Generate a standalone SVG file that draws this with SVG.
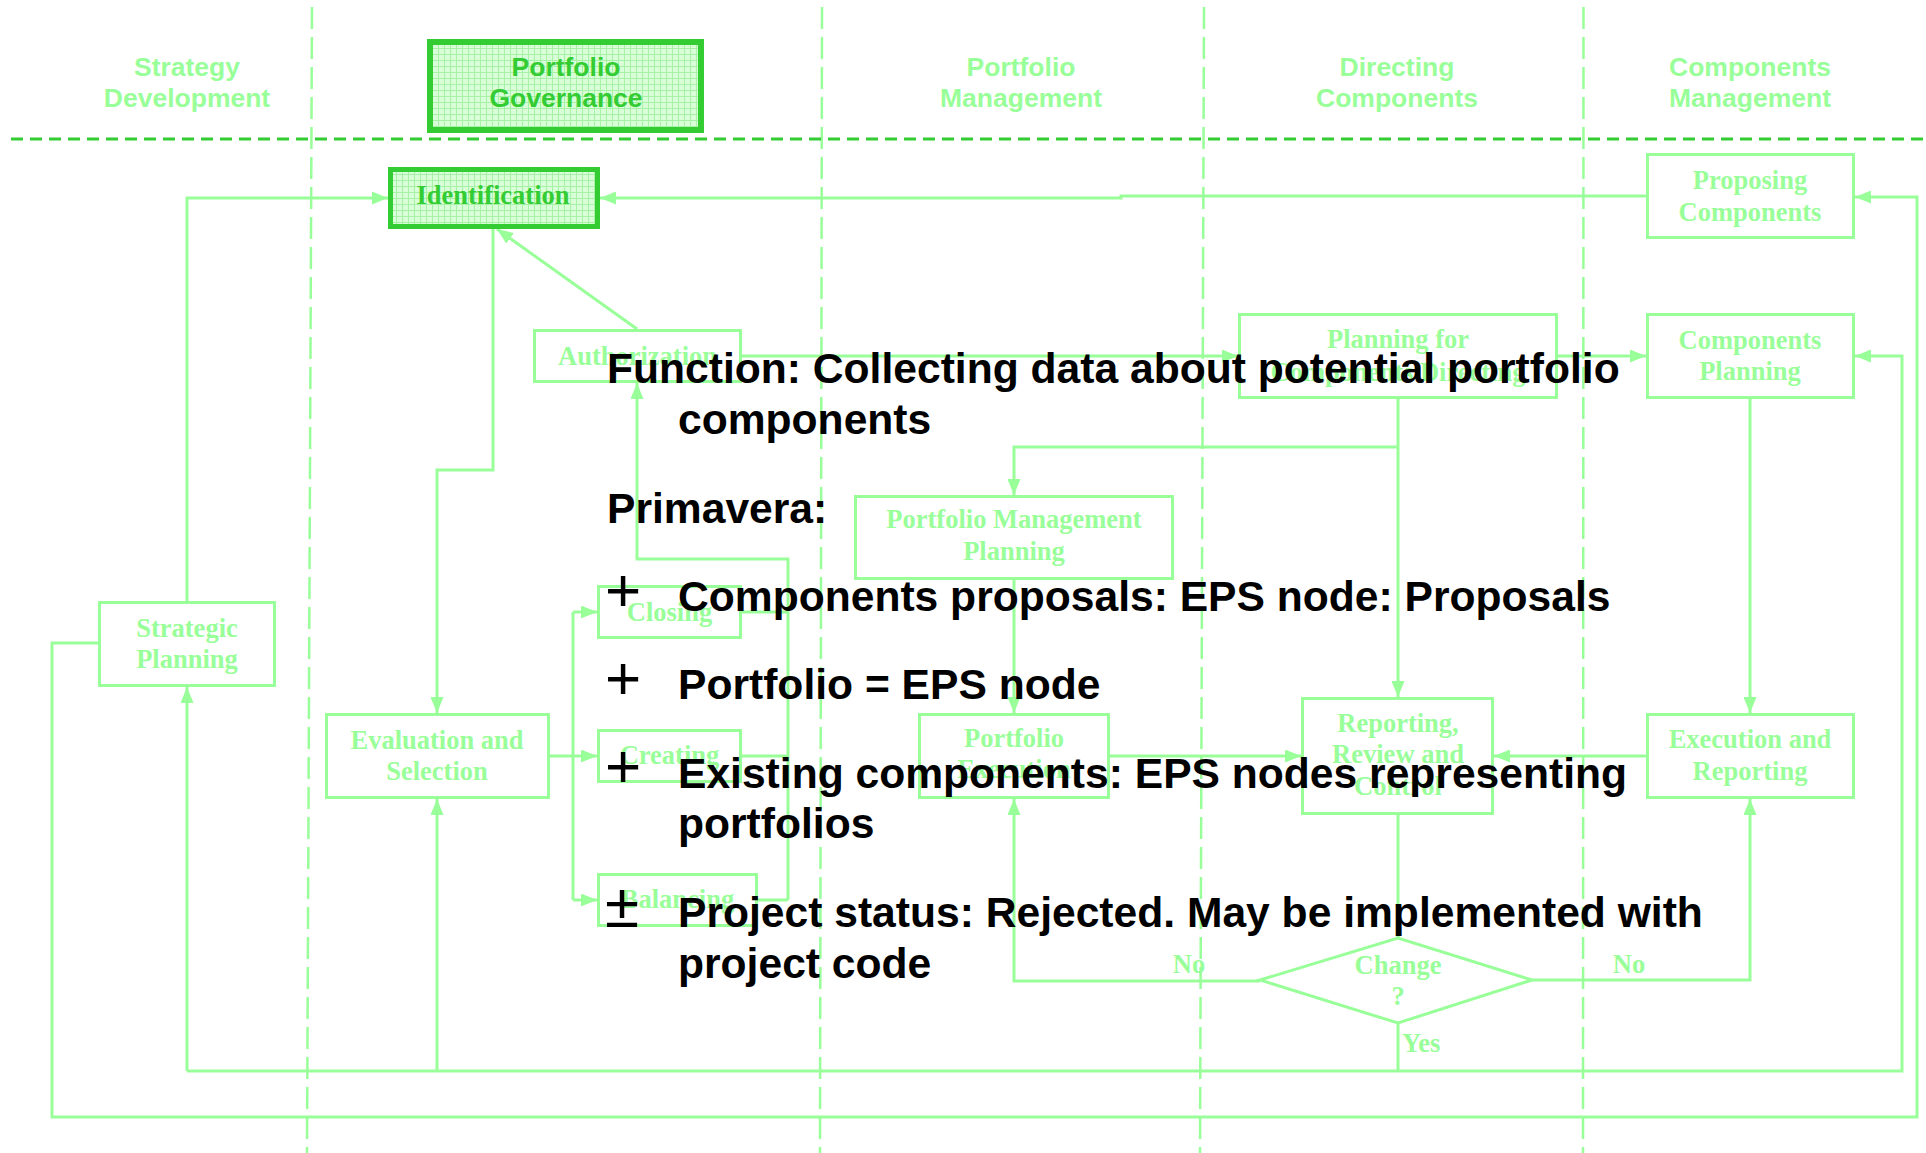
<svg xmlns="http://www.w3.org/2000/svg" width="1926" height="1153" viewBox="0 0 1926 1153">
<defs>
<style>
.lane{stroke:#99FF99;stroke-width:2.5;stroke-dasharray:22 8;fill:none}
.sep{stroke:#33CC33;stroke-width:3;stroke-dasharray:12 7;fill:none}
.hdr{font-family:"Liberation Sans",Arial,sans-serif;font-weight:bold;font-size:26.5px;fill:#99FF99;text-anchor:middle}
.box{fill:none;stroke:#99FF99;stroke-width:3}
.hbox{fill:url(#grid);stroke:#33CC33}
.lbl{font-family:"Liberation Serif","Times New Roman",serif;font-weight:bold;font-size:26.5px;fill:#99FF99;text-anchor:middle}
.dk{fill:#33CC33}
.edge{fill:none;stroke:#99FF99;stroke-width:3}
.arr{marker-end:url(#ah)}
.ov{font-family:"Liberation Sans",Arial,sans-serif;font-weight:bold;font-size:42.6px;fill:#000000}
.bul{font-family:"Liberation Sans",Arial,sans-serif;font-size:62px;fill:#000000}
</style>
<pattern id="grid" width="6" height="6" patternUnits="userSpaceOnUse">
<rect width="6" height="6" fill="#D8FFD8"/>
<path d="M0 0.5H6M0.5 0V6" stroke="#A8F2A8" stroke-width="1"/>
</pattern>
<marker id="ah" markerUnits="userSpaceOnUse" markerWidth="16" markerHeight="13" refX="16" refY="6.5" orient="auto">
<path d="M0,0 L16,6.5 L0,13 z" fill="#99FF99"/>
</marker>
</defs>
<rect width="1926" height="1153" fill="#FFFFFF"/>

<g id="lanes">
<line class="lane" x1="312" y1="7" x2="307" y2="1153"/>
<line class="lane" x1="822" y1="7" x2="820" y2="1153"/>
<line class="lane" x1="1204" y1="7" x2="1200" y2="1153"/>
<line class="lane" x1="1583.5" y1="7" x2="1583" y2="1153"/>
<line class="sep" x1="11" y1="139" x2="1926" y2="139"/>
<text class="hdr" x="187" y="76">Strategy</text>
<text class="hdr" x="187" y="107">Development</text>
<text class="hdr" x="1021" y="76">Portfolio</text>
<text class="hdr" x="1021" y="107">Management</text>
<text class="hdr" x="1397" y="76">Directing</text>
<text class="hdr" x="1397" y="107">Components</text>
<text class="hdr" x="1750" y="76">Components</text>
<text class="hdr" x="1750" y="107">Management</text>
</g>

<g id="portfolio-governance">
<rect class="hbox" x="430" y="42" width="271" height="88" stroke-width="6"/>
<text class="hdr dk" x="566" y="76">Portfolio</text>
<text class="hdr dk" x="566" y="107">Governance</text>
</g>

<g id="connectors">
<path class="edge arr" d="M187,601 V198 H388"/>
<path class="edge arr" d="M1646,196 H1121 V198 H600"/>
<path class="edge arr" d="M637,329 L497,229"/>
<path class="edge arr" d="M493,229 V470 H437 V713"/>
<path class="edge arr" d="M742,356 H1238"/>
<path class="edge arr" d="M1558,356 H1646"/>
<path class="edge arr" d="M1398,399 V697"/>
<path class="edge arr" d="M1398,447 H1014 V495"/>
<path class="edge arr" d="M1014,580 V713"/>
<path class="edge arr" d="M1750,399 V713"/>
<path class="edge arr" d="M1110,756 H1301"/>
<path class="edge arr" d="M1646,756 H1494"/>
<path class="edge" d="M1398,815 V938"/>
<path class="edge arr" d="M1260,981 H1014 V799"/>
<path class="edge arr" d="M1532,980 H1750 V799"/>
<path class="edge" d="M1398,1023 V1071"/>
<path class="edge arr" d="M187,1071 H1902 V356 H1855"/>
<path class="edge arr" d="M187,1071 V687"/>
<path class="edge arr" d="M437,1071 V799"/>
<path class="edge arr" d="M98,643 H52 V1117 H1917 V197 H1855"/>
<path class="edge" d="M550,756 H573 M573,612 V900"/>
<path class="edge arr" d="M573,612 H597"/>
<path class="edge arr" d="M573,756 H597"/>
<path class="edge arr" d="M573,900 H597"/>
<path class="edge" d="M742,612 H788 M742,756 H788 M758,900 H788"/>
<path class="edge arr" d="M788,900 V559 H637 V383"/>
<text class="lbl" x="1189" y="973">No</text>
<text class="lbl" x="1629" y="973">No</text>
<text class="lbl" x="1402" y="1052" style="text-anchor:start">Yes</text>
</g>

<g id="identification">
<rect class="hbox" x="390.5" y="169.5" width="207" height="57" stroke-width="5"/>
<text class="lbl dk" x="493" y="204">Identification</text>
</g>
<g id="proposing-components">
<rect class="box" x="1647.5" y="154.5" width="206" height="83"/>
<text class="lbl" x="1750" y="189">Proposing</text>
<text class="lbl" x="1750" y="221">Components</text>
</g>
<g id="authorization">
<rect class="box" x="534.5" y="330.5" width="206" height="51"/>
<text class="lbl" x="637.5" y="365">Authorization</text>
</g>
<g id="planning-for-components-directing">
<rect class="box" x="1239.5" y="314.5" width="317" height="83"/>
<text class="lbl" x="1398" y="348">Planning for</text>
<text class="lbl" x="1398" y="381">Components Directing</text>
</g>
<g id="components-planning">
<rect class="box" x="1647.5" y="314.5" width="206" height="83"/>
<text class="lbl" x="1750" y="349">Components</text>
<text class="lbl" x="1750" y="380">Planning</text>
</g>
<g id="portfolio-management-planning">
<rect class="box" x="855.5" y="496.5" width="317" height="82"/>
<text class="lbl" x="1014" y="528">Portfolio Management</text>
<text class="lbl" x="1014" y="560">Planning</text>
</g>
<g id="strategic-planning">
<rect class="box" x="99.5" y="602.5" width="175" height="83"/>
<text class="lbl" x="187" y="637">Strategic</text>
<text class="lbl" x="187" y="668">Planning</text>
</g>
<g id="closing">
<rect class="box" x="598.5" y="586.5" width="142" height="51"/>
<text class="lbl" x="669.5" y="621">Closing</text>
</g>
<g id="creating">
<rect class="box" x="598.5" y="730.5" width="142" height="51"/>
<text class="lbl" x="669.5" y="764">Creating</text>
</g>
<g id="balancing">
<rect class="box" x="598.5" y="874.5" width="158" height="51"/>
<text class="lbl" x="677.5" y="908">Balancing</text>
</g>
<g id="evaluation-and-selection">
<rect class="box" x="326.5" y="714.5" width="222" height="83"/>
<text class="lbl" x="437" y="749">Evaluation and</text>
<text class="lbl" x="437" y="780">Selection</text>
</g>
<g id="portfolio-execution">
<rect class="box" x="919.5" y="714.5" width="189" height="83"/>
<text class="lbl" x="1014" y="747">Portfolio</text>
<text class="lbl" x="1014" y="778">Execution</text>
</g>
<g id="reporting-review-control">
<rect class="box" x="1302.5" y="698.5" width="190" height="115"/>
<text class="lbl" x="1398" y="732">Reporting,</text>
<text class="lbl" x="1398" y="763">Review and</text>
<text class="lbl" x="1398" y="795">Control</text>
</g>
<g id="execution-and-reporting">
<rect class="box" x="1647.5" y="714.5" width="206" height="83"/>
<text class="lbl" x="1750" y="748">Execution and</text>
<text class="lbl" x="1750" y="780">Reporting</text>
</g>
<g id="change-decision">
<polygon class="box" points="1260,980 1398,938 1532,980 1398,1023"/>
<text class="lbl" x="1398" y="974">Change</text>
<text class="lbl" x="1398" y="1005">?</text>
</g>

<g id="overlay-text">
<text class="ov" x="607" y="383">Function: Collecting data about potential portfolio</text>
<text class="ov" x="678" y="434">components</text>
<text class="ov" x="607" y="523">Primavera:</text>
<text class="bul" x="605" y="611">+</text>
<text class="ov" x="678" y="611">Components proposals: EPS node: Proposals</text>
<text class="bul" x="605" y="699">+</text>
<text class="ov" x="678" y="699">Portfolio = EPS node</text>
<text class="bul" x="605" y="787">+</text>
<text class="ov" x="678" y="788">Existing components: EPS nodes representing</text>
<text class="ov" x="678" y="838">portfolios</text>
<text class="bul" x="605" y="927">±</text>
<text class="ov" x="678" y="927">Project status: Rejected. May be implemented with</text>
<text class="ov" x="678" y="978">project code</text>
</g>
</svg>
